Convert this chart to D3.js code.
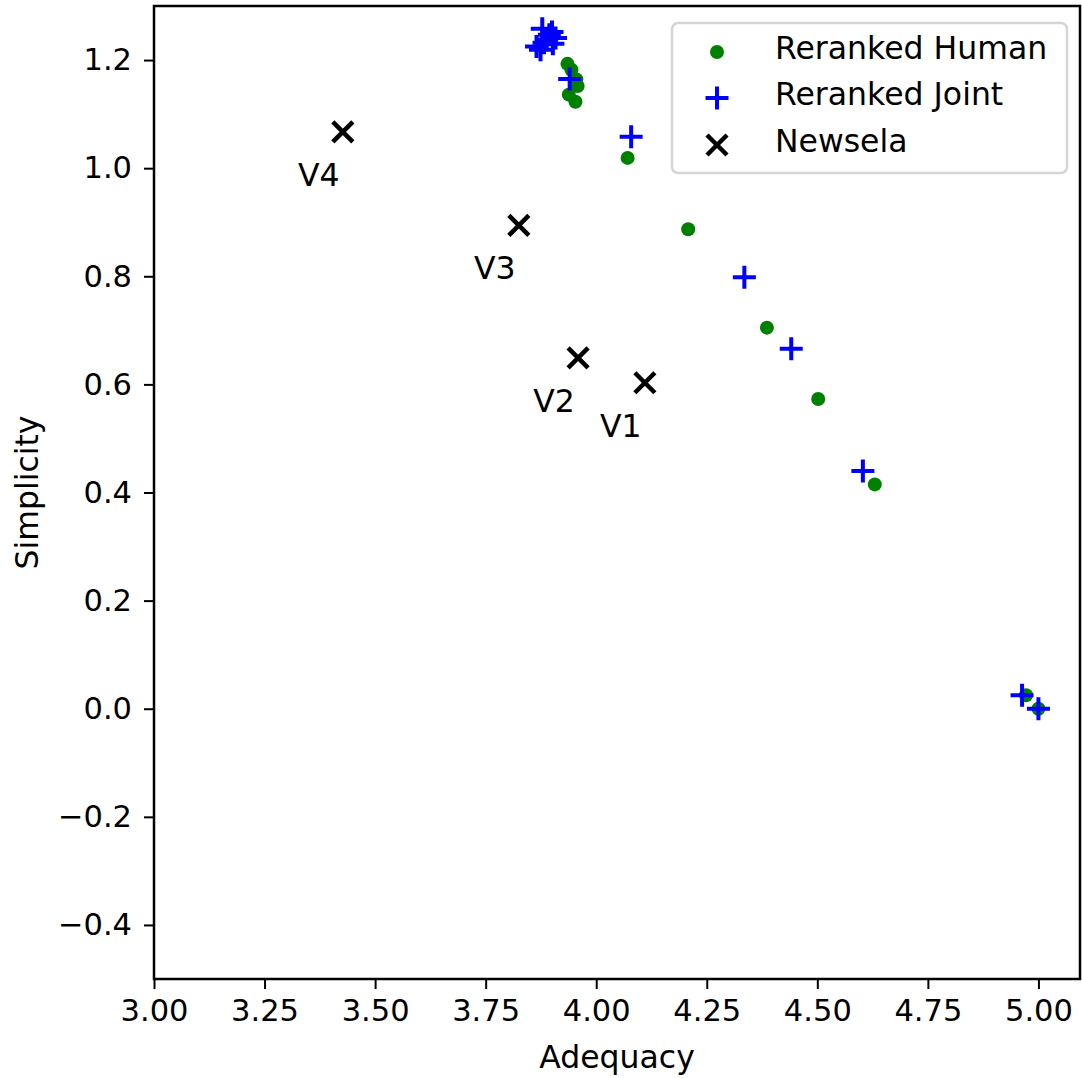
<!DOCTYPE html>
<html>
<head>
<meta charset="utf-8">
<script src="https://cdn.jsdelivr.net/npm/d3@7"></script>
<style>
  html, body { margin: 0; padding: 0; background: #fff; }
  svg { display: block; }
  text { font-family: "DejaVu Sans", sans-serif; fill: #000; }
</style>
</head>
<body>
<svg id="chart" width="1082" height="1078"></svg>
<script>
// ---- data ----
const humanAdequacy   = [4.208, 4.386, 4.502, 4.630, 4.071, 4.972, 5.000, 3.935, 3.944, 3.955, 3.958, 3.938, 3.953];
const humanSimplicity = [0.887, 0.705, 0.573, 0.415, 1.019, 0.025, 0.000, 1.193, 1.182, 1.164, 1.152, 1.136, 1.123];

const jointAdequacy   = [4.079, 4.335, 4.441, 4.603, 3.940, 4.963, 5.000, 3.878, 3.894, 3.908, 3.882, 3.874, 3.865, 3.888, 3.900, 3.902];
const jointSimplicity = [1.058, 0.798, 0.666, 0.440, 1.165, 0.025, 0.000, 1.258, 1.247, 1.241, 1.232, 1.219, 1.225, 1.238, 1.252, 1.230];

const newselaLabels     = ["V4", "V3", "V2", "V1"];
const newselaAdequacy   = [3.427, 3.825, 3.959, 4.110];
const newselaSimplicity = [1.067, 0.894, 0.649, 0.603];

const seriesNames = ["Reranked Human", "Reranked Joint", "Newsela"];
const xTicks = [3.00, 3.25, 3.50, 3.75, 4.00, 4.25, 4.50, 4.75, 5.00];
const yTicks = [-0.4, -0.2, 0.0, 0.2, 0.4, 0.6, 0.8, 1.0, 1.2];
const xDomain = [3.0, 5.094];
const yDomain = [-0.5, 1.3];

// ---- layout ----
const svg = d3.select("#chart");
const L = 154, R = 1080, T = 6, B = 979;
const FS = 30.5;
const LFS = 31.5;

const x = d3.scaleLinear().domain(xDomain).range([L, R]);
const y = d3.scaleLinear().domain(yDomain).range([B, T]);

const fmtMinus = s => s.replace("-", "\u2212");

// axes
const xAxis = d3.axisBottom(x).tickValues(xTicks).tickSize(10).tickPadding(10)
  .tickFormat(d => fmtMinus(d3.format(".2f")(d)));
const yAxis = d3.axisLeft(y).tickValues(yTicks).tickSize(10).tickPadding(12)
  .tickFormat(d => fmtMinus(d3.format(".1f")(d)));

const gx = svg.append("g").attr("transform", `translate(0,${B})`).call(xAxis);
const gy = svg.append("g").attr("transform", `translate(${L},0)`).call(yAxis);
[gx, gy].forEach(g => {
  g.select(".domain").remove();
  g.selectAll(".tick line").attr("stroke", "#000").attr("stroke-width", 2);
  g.selectAll(".tick text").attr("font-size", FS).attr("font-family", "DejaVu Sans").attr("fill", "#000");
});

// clip for marks
svg.append("clipPath").attr("id", "clip").append("rect")
  .attr("x", L).attr("y", T).attr("width", R - L).attr("height", B - T);
const plot = svg.append("g").attr("clip-path", "url(#clip)");

// marker helpers
const plusPath = (s) => `M${-s},0H${s}M0,${-s}V${s}`;
const xPath = (s) => `M${-s},${-s}L${s},${s}M${-s},${s}L${s},${-s}`;

// Reranked Human
plot.append("g").selectAll("circle")
  .data(humanAdequacy.map((a, i) => [a, humanSimplicity[i]]))
  .join("circle")
  .attr("cx", d => x(d[0])).attr("cy", d => y(d[1]))
  .attr("r", 7).attr("fill", "green");

// Reranked Joint
plot.append("g").selectAll("path")
  .data(jointAdequacy.map((a, i) => [a, jointSimplicity[i]]))
  .join("path")
  .attr("transform", d => `translate(${x(d[0])},${y(d[1])})`)
  .attr("d", plusPath(11.5))
  .attr("stroke", "blue").attr("stroke-width", 4).attr("fill", "none");

// Newsela
const nd = newselaAdequacy.map((a, i) => [a, newselaSimplicity[i], newselaLabels[i]]);
plot.append("g").selectAll("path")
  .data(nd)
  .join("path")
  .attr("transform", d => `translate(${x(d[0])},${y(d[1])})`)
  .attr("d", xPath(10))
  .attr("stroke", "#000").attr("stroke-width", 4.5).attr("fill", "none");

svg.append("g").selectAll("text")
  .data(nd)
  .join("text")
  .attr("x", d => x(d[0]) - 24)
  .attr("y", d => y(d[1]) + 54)
  .attr("text-anchor", "middle")
  .attr("font-size", LFS)
  .text(d => d[2]);

// spines
svg.append("rect").attr("x", L).attr("y", T).attr("width", R - L).attr("height", B - T)
  .attr("fill", "none").attr("stroke", "#000").attr("stroke-width", 2.5);

// axis titles
svg.append("text").attr("x", (L + R) / 2).attr("y", 1068).attr("text-anchor", "middle")
  .attr("font-size", LFS).text("Adequacy");
svg.append("text").attr("transform", `translate(38,${(T + B) / 2}) rotate(-90)`)
  .attr("text-anchor", "middle").attr("font-size", LFS).text("Simplicity");

// legend
const lg = svg.append("g");
lg.append("rect").attr("x", 672).attr("y", 23).attr("width", 395).attr("height", 150)
  .attr("rx", 6).attr("fill", "#fff").attr("fill-opacity", 0.8)
  .attr("stroke", "#d5d5d5").attr("stroke-width", 2.5);
const rowsY = [52, 98, 145];
const mx = 717;
lg.append("circle").attr("cx", mx).attr("cy", rowsY[0]).attr("r", 7).attr("fill", "green");
lg.append("path").attr("transform", `translate(${mx},${rowsY[1]})`).attr("d", plusPath(11.5))
  .attr("stroke", "blue").attr("stroke-width", 4).attr("fill", "none");
lg.append("path").attr("transform", `translate(${mx},${rowsY[2]})`).attr("d", xPath(10))
  .attr("stroke", "#000").attr("stroke-width", 4.5).attr("fill", "none");
lg.selectAll("text.lab").data(seriesNames).join("text").attr("class", "lab")
  .attr("x", 775).attr("y", (d, i) => rowsY[i] + 7).attr("font-size", LFS).text(d => d);
</script>
</body>
</html>
